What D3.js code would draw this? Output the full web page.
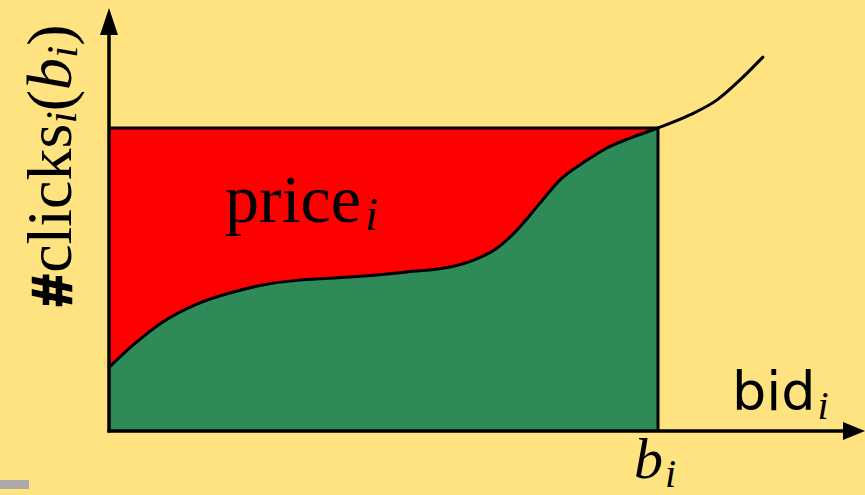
<!DOCTYPE html>
<html>
<head>
<meta charset="utf-8">
<script src="https://cdn.jsdelivr.net/npm/d3@7"></script>
<style>
  html, body { margin: 0; padding: 0; background: #FFE380; }
  svg { display: block; }
</style>
</head>
<body>
<svg id="chart" width="865" height="495"></svg>
<script>
// clicks as a function of bid (b_i = 100, clicks(b_i) = 100)
const bids   = [0, 4.4, 9.8, 16.0, 23.3, 29.9, 34.8, 43.9, 54.3, 62.1, 67.0, 70.7, 74.3, 78.5, 82.1, 87.1, 90.7, 95.4, 100, 105.8, 110.7, 114.9, 119.1];
const clicks = [21, 28.4, 36.0, 41.9, 46.2, 48.8, 49.8, 50.8, 52.5, 54.1, 56.8, 60.4, 66.3, 75.2, 82.8, 89.4, 93.4, 97.0, 100, 104.3, 109.2, 115.8, 123.4];
const bidValue = 100;

const svg = d3.select("#chart");
const width = 865, height = 495;

svg.append("rect").attr("width", width).attr("height", height).attr("fill", "#FFE380");

const x = d3.scaleLinear().domain([0, 100]).range([109, 658]);
const y = d3.scaleLinear().domain([0, 100]).range([431, 128]);

const data = bids.map((b, i) => ({ bid: b, clicks: clicks[i] }));
const inside = data.filter(d => d.bid <= bidValue);
const clicksAtBid = clicks[bids.indexOf(bidValue)];

const curve = d3.curveMonotoneX;

// green: the clicks area under the curve
svg.append("path")
    .datum(inside)
    .attr("d", d3.area().x(d => x(d.bid)).y0(y(0)).y1(d => y(d.clicks)).curve(curve))
    .attr("fill", "#2E8B57");

// red: price region between curve and clicks(b_i)
svg.append("path")
    .datum(inside)
    .attr("d", d3.area().x(d => x(d.bid)).y0(y(clicksAtBid)).y1(d => y(d.clicks)).curve(curve))
    .attr("fill", "#FF0000");

// rectangle edges
svg.append("line")
    .attr("x1", x(0)).attr("x2", x(bidValue))
    .attr("y1", y(clicksAtBid)).attr("y2", y(clicksAtBid))
    .attr("stroke", "#000").attr("stroke-width", 3);
svg.append("line")
    .attr("x1", x(bidValue)).attr("x2", x(bidValue))
    .attr("y1", y(clicksAtBid)).attr("y2", y(0))
    .attr("stroke", "#000").attr("stroke-width", 3);

// the curve itself
svg.append("path")
    .datum(data)
    .attr("d", d3.line().x(d => x(d.bid)).y(d => y(d.clicks)).curve(curve))
    .attr("fill", "none")
    .attr("stroke", "#000")
    .attr("stroke-width", 3)
    .attr("stroke-linecap", "round");

// axes with arrow heads
svg.append("line")
    .attr("x1", x(0)).attr("x2", x(0))
    .attr("y1", y(0) + 1.5).attr("y2", 30)
    .attr("stroke", "#000").attr("stroke-width", 3.5);
svg.append("path")
    .attr("d", `M${x(0)},8 L${x(0) - 9},35 L${x(0) + 9},35 Z`)
    .attr("fill", "#000");

svg.append("line")
    .attr("x1", x(0) - 1.5).attr("x2", 848)
    .attr("y1", y(0)).attr("y2", y(0))
    .attr("stroke", "#000").attr("stroke-width", 3.5);
svg.append("path")
    .attr("d", `M865,${y(0)} L843,${y(0) - 9} L843,${y(0) + 9} Z`)
    .attr("fill", "#000");

// labels
const serif = "Liberation Serif";
const sans = "DejaVu Sans";

function part(sel, txt, opts) {
    const t = sel.append("tspan")
        .attr("font-family", opts.family || serif)
        .attr("font-style", opts.italic ? "italic" : "normal")
        .attr("font-weight", opts.bold ? "bold" : "normal")
        .attr("font-size", opts.size)
        .text(txt);
    if (opts.dx) t.attr("dx", opts.dx);
    if (opts.dy) t.attr("dy", opts.dy);
    return t;
}

const price = svg.append("text").attr("x", 225).attr("y", 222)
    .attr("font-family", serif).attr("fill", "#000");
part(price, "price", { size: 68 });
part(price, "i", { italic: true, size: 46, dx: 4, dy: 8 });

const bidLabel = svg.append("text").attr("x", 732).attr("y", 410)
    .attr("font-family", sans).attr("fill", "#000");
part(bidLabel, "bid", { family: sans, size: 54 });
part(bidLabel, "i", { italic: true, size: 40, dx: 2, dy: 9 });

const bLabel = svg.append("text").attr("x", 634).attr("y", 478)
    .attr("font-family", serif).attr("fill", "#000");
part(bLabel, "b", { italic: true, size: 58 });
part(bLabel, "i", { italic: true, size: 40, dx: 2, dy: 9 });

// y label, rotated to read bottom to top
const yLabel = svg.append("text")
    .attr("transform", "translate(71,306) rotate(-90)")
    .attr("font-family", serif).attr("font-size", 64).attr("fill", "#000");
part(yLabel, "#", { family: "Liberation Sans", bold: true, size: 56 })
    .attr("stroke", "#000").attr("stroke-width", 2.5);
part(yLabel, "clicks", { size: 64, dx: 2 });
part(yLabel, "i", { italic: true, size: 44, dy: 5 });
part(yLabel, "(", { size: 64, dy: -5 });
part(yLabel, "b", { italic: true, size: 64 });
part(yLabel, "i", { italic: true, size: 44, dy: 6 });
part(yLabel, ")", { size: 64, dy: -6 });

// small grey mark at the lower left
svg.append("rect").attr("x", 0).attr("y", 480).attr("width", 29).attr("height", 9).attr("fill", "#AAAAAA");
</script>
</body>
</html>
